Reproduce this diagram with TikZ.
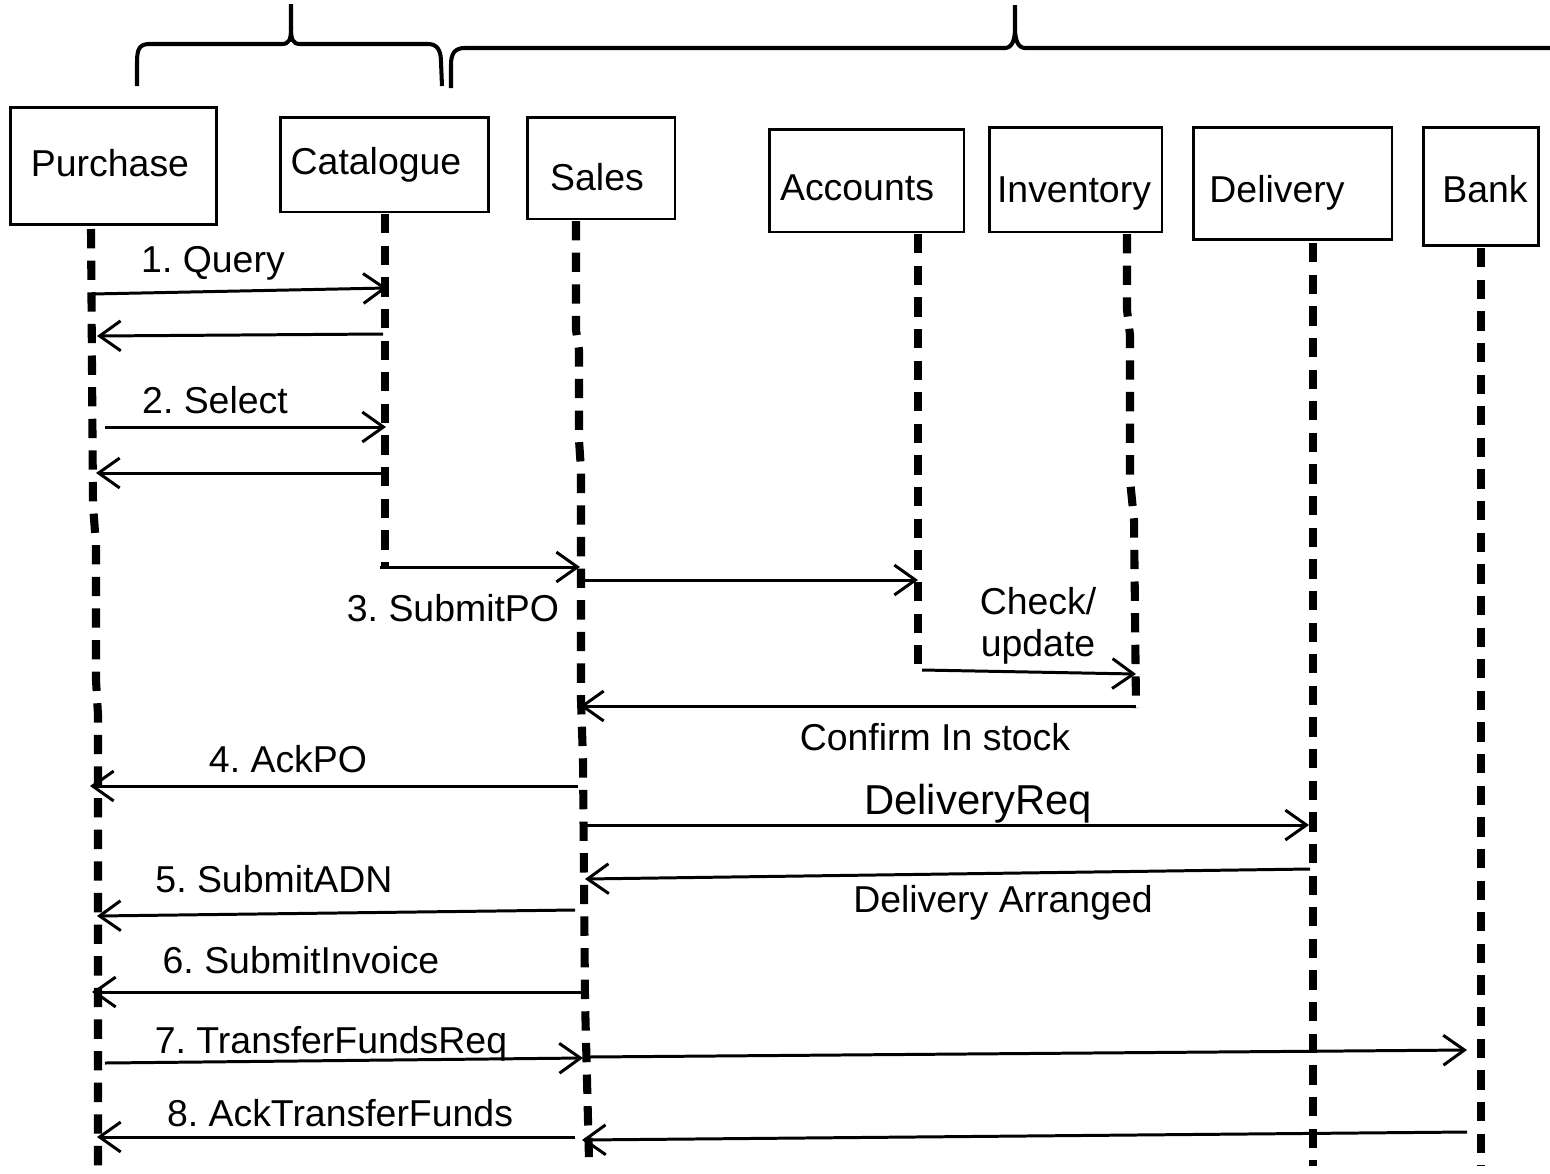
\documentclass[tikz,border=0pt]{standalone}
\usepackage{fontspec}
\setmainfont{Liberation Sans}
\usetikzlibrary{arrows.meta}
\frenchspacing
\tikzset{
  box/.style={draw, line width=1.7pt, inner sep=0pt},
  btxt/.style={font=\fontsize{21.3}{24}\selectfont, inner sep=0pt, anchor=base},
  life/.style={line width=4.6pt, dash pattern=on 11pt off 7pt},
  msg/.style={line width=1.7pt, -{Straight Barb[length=12pt,width=17pt,line width=1.7pt]}},
  lbl/.style={font=\fontsize{21.3}{24}\selectfont, inner sep=0pt, anchor=base},
  bigl/.style={font=\fontsize{23.8}{27}\selectfont, inner sep=0pt, anchor=base},
  brace/.style={line width=2.3pt, line join=round}
}
\begin{document}
\begin{tikzpicture}[x=0.02cm, y=-0.02cm]
\useasboundingbox (0,0) rectangle (1550,1173);

% braces
\draw[brace] (137,86) -- (137,62) .. controls (137,48) and (140,44) .. (150,44) -- (282,44)
  .. controls (289,44) and (291,40) .. (291,28) -- (291,4);
\draw[brace] (291,28) .. controls (291,40) and (293,44) .. (300,44) -- (428,44)
  .. controls (437,44) and (441,50) .. (441,62) -- (442,86);
\draw[brace] (451,88) -- (451,65) .. controls (451,53) and (455,48) .. (465,48) -- (1005,48)
  .. controls (1012,48) and (1015,40) .. (1015,28) -- (1015,5);
\draw[brace] (1015,28) .. controls (1015,40) and (1018,48) .. (1025,48) -- (1550,48);

% participants
\node[box, minimum width=4.14cm, minimum height=2.36cm] (P) at (113.5,166) {};
\node[box, minimum width=4.18cm, minimum height=1.90cm] (C) at (384.5,164.5) {};
\node[box, minimum width=2.96cm, minimum height=2.04cm] (S) at (601,168) {};
\node[box, minimum width=3.90cm, minimum height=2.06cm] (A) at (866.5,180.5) {};
\node[box, minimum width=3.46cm, minimum height=2.10cm] (I) at (1075.5,179.5) {};
\node[box, minimum width=3.98cm, minimum height=2.26cm] (D) at (1292.5,183.5) {};
\node[box, minimum width=2.30cm, minimum height=2.38cm] (B) at (1480.5,186.5) {};
\node[btxt] (Ptx) at (110,176) {Purchase};
\node[btxt] (Ctx) at (376,174) {Catalogue};
\node[btxt] (Stx) at (597,190) {Sales};
\node[btxt] (Atx) at (857,200) {Accounts};
\node[btxt] (Itx) at (1074,202) {Inventory};
\node[btxt] (Dtx) at (1277,202) {Delivery};
\node[btxt] (Btx) at (1485,202) {Bank};

% lifelines
\coordinate (Pt) at (91,229);   \coordinate (Pb) at (98,1173);
\coordinate (Ct) at (385,214);  \coordinate (Cb) at (385,567);
\coordinate (St) at (576,221);  \coordinate (Sb) at (589,1160);
\coordinate (At) at (918,234);  \coordinate (Ab) at (918,669);
\coordinate (It) at (1127,234); \coordinate (Ib) at (1136,708);
\coordinate (Dt) at (1313,243); \coordinate (Db) at (1313,1166);
\coordinate (Bt) at (1481,248); \coordinate (Bb) at (1481,1166);
\draw[life] (Pt) -- (93,505) -- (96,545) -- (96,680) -- (98,715) -- (Pb);
\draw[life] (Ct) -- (Cb);
\draw[life] (St) -- (576,330) -- (579,350) -- (579,440) -- (581,470) -- (581,700) -- (583,760) -- (585,1000) -- (Sb);
\draw[life] (At) -- (Ab);
\draw[life] (It) -- (1127,310) -- (1130,335) -- (1130,480) -- (1134,520) -- (Ib);
\draw[life] (Dt) -- (Db);
\draw[life] (Bt) -- (Bb);

% message end points
\coordinate (m1a) at (92,294);    \coordinate (m1b) at (387,288);
\coordinate (m2a) at (383,334);   \coordinate (m2b) at (97,336);
\coordinate (m3a) at (105,427);   \coordinate (m3b) at (386,427);
\coordinate (m4a) at (383,473);   \coordinate (m4b) at (96,473);
\coordinate (m5a) at (380,567);   \coordinate (m5b) at (580,567);
\coordinate (m6a) at (585,580);   \coordinate (m6b) at (918,580);
\coordinate (m7a) at (922,670);   \coordinate (m7b) at (1136,674);
\coordinate (m8a) at (1136,706);  \coordinate (m8b) at (580,706);
\coordinate (m9a) at (578,786);   \coordinate (m9b) at (90,786);
\coordinate (m10a) at (585,825);  \coordinate (m10b) at (1309,825);
\coordinate (m11a) at (1310,869); \coordinate (m11b) at (585,879);
\coordinate (m12a) at (575,910);  \coordinate (m12b) at (97,916);
\coordinate (m13a) at (582,992);  \coordinate (m13b) at (92,992);
\coordinate (m14a) at (105,1063); \coordinate (m14b) at (583,1058);
\coordinate (m15a) at (588,1057); \coordinate (m15b) at (1467,1050);
\coordinate (m16a) at (1467,1132); \coordinate (m16b) at (582,1140);
\coordinate (m17a) at (575,1137); \coordinate (m17b) at (97,1137);

% messages
\draw[msg] (m1a) -- (m1b);
\draw[msg] (m2a) -- (m2b);
\draw[msg] (m3a) -- (m3b);
\draw[msg] (m4a) -- (m4b);
\draw[msg] (m5a) -- (m5b);
\draw[msg] (m6a) -- (m6b);
\draw[msg] (m7a) -- (m7b);
\draw[msg] (m8a) -- (m8b);
\draw[msg] (m9a) -- (m9b);
\draw[msg] (m10a) -- (m10b);
\draw[msg] (m11a) -- (m11b);
\draw[msg] (m12a) -- (m12b);
\draw[msg] (m13a) -- (m13b);
\draw[msg] (m14a) -- (m14b);
\draw[msg] (m15a) -- (m15b);
\draw[msg] (m16a) -- (m16b);
\draw[msg] (m17a) -- (m17b);

% labels
\node[lbl] (l1) at (213,272) {1. Query};
\node[lbl] (l2) at (215,413) {2. Select};
\node[lbl] (l3) at (453,621) {3. SubmitPO};
\node[font=\fontsize{21.3}{23.8}\selectfont, align=center, inner sep=0pt] (l4) at (1038,626) {Check/\\update};
\node[lbl] (l5) at (935,750) {Confirm In stock};
\node[lbl] (l6) at (288,772) {4. AckPO};
\node[bigl] (l7) at (978,814) {DeliveryReq};
\node[lbl] (l8) at (274,892) {5. SubmitADN};
\node[lbl] (l9) at (1003,912) {Delivery Arranged};
\node[lbl] (l10) at (301,973) {6. SubmitInvoice};
\node[lbl] (l11) at (331,1053) {7. TransferFundsReq};
\node[lbl] (l12) at (340,1126) {8. AckTransferFunds};
\end{tikzpicture}
\end{document}
